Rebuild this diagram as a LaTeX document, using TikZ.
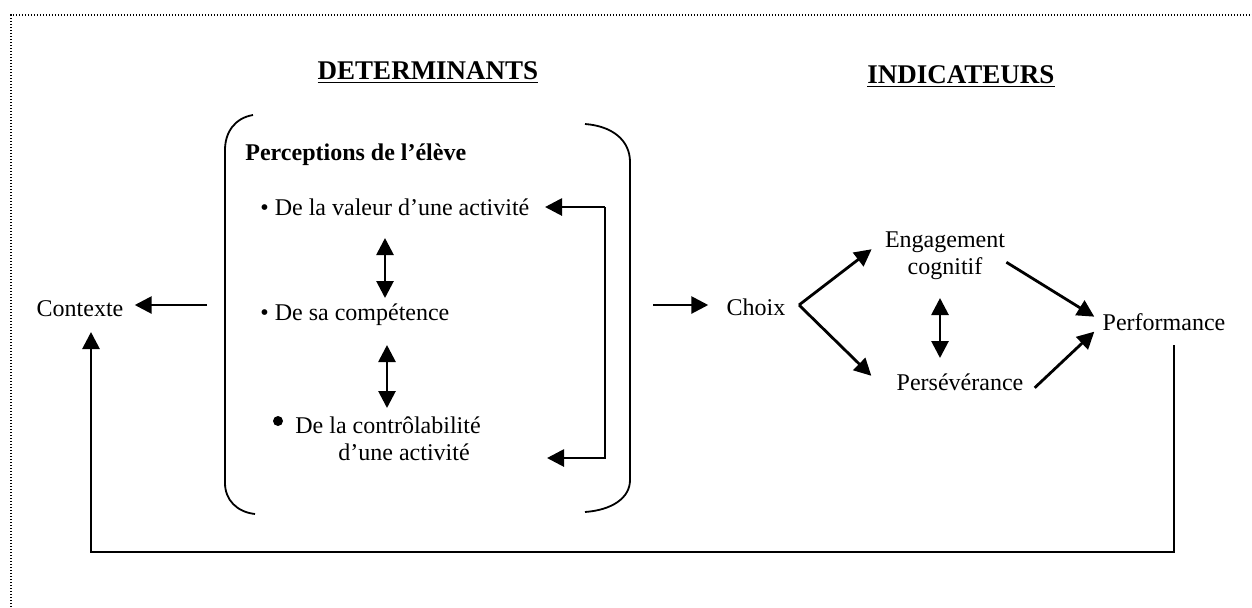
\documentclass[tikz,border=0pt]{standalone}
\usepackage{fontspec}
\setmainfont{Liberation Serif}
\usetikzlibrary{arrows.meta}

\begin{document}
\begin{tikzpicture}[x=0.5pt,y=-0.5pt,
  every node/.style={inner sep=0pt,font=\fontsize{12}{13.5}\selectfont},
  heading/.style={anchor=base,font=\fontsize{13.5}{15}\selectfont\bfseries},
  arr/.style={-{Triangle[length=8.5pt,width=8.5pt]},line width=1.4pt},
  dblarr/.style={{Triangle[length=8.5pt,width=8.5pt]}-{Triangle[length=8.5pt,width=8.5pt]},line width=1.4pt},
  bracketline/.style={line width=0.9pt},
  framedots/.style={line width=0.7pt,dash pattern=on 0.7pt off 0.8pt}]

\useasboundingbox (0,0) rectangle (1252,607);
\draw [framedots] (11,607) -- (11,15) -- (1252,15);

\node (determinants)	at (428,79)	[heading] {\underline{DETERMINANTS}};
\node (indicateurs)	at (961,83)	[heading] {\underline{INDICATEURS}};

% perceptions de l'eleve
\node (perceptions)	at (245,160)	[anchor=base west,font=\fontsize{12}{13.5}\selectfont\bfseries] {Perceptions de l’élève};
\node (valeur)		at (260,215)	[anchor=base west] {\textbullet\ De la valeur d’une activité};
\node (competence)	at (260,320)	[anchor=base west] {\textbullet\ De sa compétence};
\node (ctrlbullet)	at (278,421)	[circle,fill,minimum size=5pt] {};
\node (controle)	at (295,460)	[anchor=base west,align=left] {De la contrôlabilité\\\hspace*{21.5pt}d’une activité};
\draw [bracketline] (253,115) .. controls (235,118) and (225,132) .. (225,150) -- (225,483) .. controls (225,500) and (237,512) .. (255,514);
\draw [bracketline] (585,124) .. controls (612,126) and (630,140) .. (630,162) -- (630,480) .. controls (630,498) and (612,510) .. (585,512);

\node (contexte)	at (80,316)	[anchor=base] {Contexte};
\node (choix)		at (756,315)	[anchor=base] {Choix};
\node (engagement)	at (945,274)	[anchor=base,align=center] {Engagement\\cognitif};
\node (persev)		at (960,390)	[anchor=base] {Persévérance};
\node (performance)	at (1164,330)	[anchor=base] {Performance};

\coordinate (ctxout)	at (207,305);
\coordinate (ctxin)	at (91,332);
\coordinate (perfdrop)	at (1174,345);
\coordinate (fbtop)	at (605,207);
\coordinate (fbbot)	at (605,458);
\coordinate (choixin)	at (653,305);
\coordinate (fork)	at (799,305);
\coordinate (vc1)	at (385,238);
\coordinate (vc2)	at (385,298);
\coordinate (cc1)	at (387,345);
\coordinate (cc2)	at (387,408);
\coordinate (ep1)	at (940,298);
\coordinate (ep2)	at (940,358);

\draw [arr,shorten >=5.5pt] (ctxout) -- (contexte.east |- ctxout);
\draw [arr] (perfdrop) -- ++(0,207) -| (ctxin);
\draw [arr] (fbtop) -- (fbbot) -- ++(-58,0);
\draw [arr] (fbtop) -- ++(-60,0);
\draw [dblarr] (vc1) -- (vc2);
\draw [dblarr] (cc1) -- (cc2);

\draw [arr,shorten >=9pt] (choixin) -- (choix.west |- choixin);
\draw [arr] (fork) -- ([xshift=-6.5pt,yshift=3pt]engagement.west);
\draw [arr] (fork) -- ([xshift=-12.5pt,yshift=3pt]persev.west);
\draw [dblarr] (ep1) -- (ep2);
\draw [arr] ([xshift=0.5pt,yshift=-3.5pt]engagement.east) -- ([xshift=-4pt,yshift=2.5pt]performance.west);
\draw [arr] ([xshift=5.5pt,yshift=-3pt]persev.east) -- ([xshift=-4pt,yshift=-5pt]performance.west);

\end{tikzpicture}
\end{document}
